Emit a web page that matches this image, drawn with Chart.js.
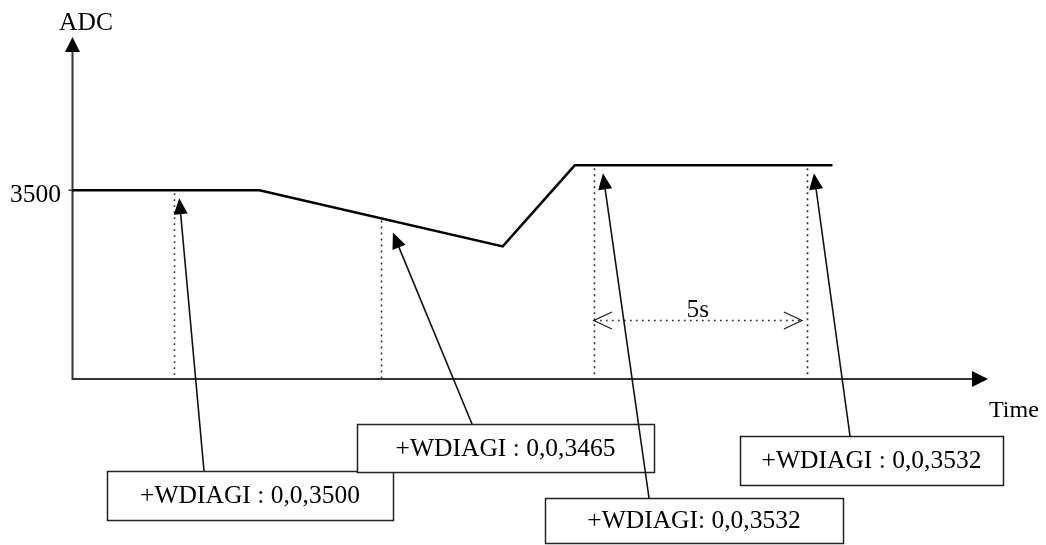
<!DOCTYPE html>
<html>
<head>
<meta charset="utf-8">
<script src="https://cdn.jsdelivr.net/npm/chart.js@4"></script>
<style>
html,body{margin:0;padding:0;background:#fff;}
canvas{display:block;}
</style>
</head>
<body>
<canvas id="c" width="1046" height="545"></canvas>
<script>
// ---- data ----
const timeS = [0, 4.40, 10.11, 11.80, 17.85];
const adcValues = [3500, 3500, 3428, 3532, 3532];
const sampleTimes = [2.4, 7.25, 12.25, 17.25];
const sampleValues = [3500, 3465, 3532, 3532];
const sampleLabels = ['+WDIAGI : 0,0,3500', '+WDIAGI : 0,0,3465', '+WDIAGI: 0,0,3532', '+WDIAGI : 0,0,3532'];
const yTickValues = [3500];
const yTickLabels = ['3500'];
const axisTitles = {x: 'Time', y: 'ADC'};
const spanLabel = '5s';

// ---- layout (pixels) ----
const FONT = '25.5px "Liberation Serif", "Times New Roman", serif';
const boxes = [
  {x: 107, y: 471, w: 286, h: 49, tailX: 204, tip: [5, 8]},
  {x: 357, y: 424, w: 297, h: 48, tailX: 472, tip: [12, 15]},
  {x: 545, y: 498, w: 298, h: 45, tailX: 649, tip: [9, 8]},
  {x: 740, y: 436, w: 263, h: 49, tailX: 850, tip: [7, 8]}
];

function arrowHead(ctx, x1, y1, x2, y2, len, half) {
  const a = Math.atan2(y2 - y1, x2 - x1);
  const bx = x2 - len * Math.cos(a), by = y2 - len * Math.sin(a);
  const nx = -Math.sin(a), ny = Math.cos(a);
  ctx.beginPath();
  ctx.moveTo(x2, y2);
  ctx.lineTo(bx + nx * half, by + ny * half);
  ctx.lineTo(bx - nx * half, by - ny * half);
  ctx.closePath();
  ctx.fill();
}

const diagram = {
  id: 'diagram',
  beforeDatasetsDraw(chart) {
    const {ctx, chartArea: ca, scales: {x, y}} = chart;
    ctx.save();
    // dotted verticals
    ctx.strokeStyle = '#333';
    ctx.lineWidth = 1.6;
    ctx.setLineDash([1.8, 4.2]);
    sampleTimes.forEach((t, i) => {
      const px = Math.round(x.getPixelForValue(t)) + 0.5;
      ctx.beginPath();
      ctx.moveTo(px, y.getPixelForValue(sampleValues[i]) + 3);
      ctx.lineTo(px, ca.bottom);
      ctx.stroke();
    });
    // span dotted line
    const sx1 = x.getPixelForValue(sampleTimes[2]);
    const sx2 = x.getPixelForValue(sampleTimes[3]) - 5;
    const sy = 320.5;
    ctx.beginPath();
    ctx.moveTo(sx1, sy); ctx.lineTo(sx2, sy); ctx.stroke();
    ctx.setLineDash([]);
    ctx.strokeStyle = '#222';
    ctx.lineWidth = 1.3;
    ctx.beginPath();
    ctx.moveTo(sx1 + 18, sy - 8.5); ctx.lineTo(sx1, sy); ctx.lineTo(sx1 + 18, sy + 8.5);
    ctx.moveTo(sx2 - 18, sy - 8.5); ctx.lineTo(sx2, sy); ctx.lineTo(sx2 - 18, sy + 8.5);
    ctx.stroke();
    ctx.fillStyle = '#111';
    ctx.font = FONT;
    ctx.textAlign = 'center';
    ctx.textBaseline = 'alphabetic';
    ctx.fillText(spanLabel, (sx1 + sx2) / 2, 317);

    // axes
    ctx.strokeStyle = '#333';
    ctx.fillStyle = '#000';
    ctx.lineWidth = 2;
    const ax = Math.round(ca.left) + 0.5, ay = Math.round(ca.bottom);
    ctx.beginPath();
    ctx.moveTo(ax, ay); ctx.lineTo(ax, ca.top + 12);
    ctx.moveTo(ax - 1, ay); ctx.lineTo(ca.right - 14, ay);
    ctx.stroke();
    arrowHead(ctx, ax, ay, ax, ca.top - 2, 15, 7.5);
    arrowHead(ctx, ax, ay, ca.right, ay, 16, 8);
    // y ticks
    ctx.lineWidth = 1.5;
    ctx.textAlign = 'right';
    ctx.textBaseline = 'middle';
    yTickValues.forEach((v, i) => {
      const py = y.getPixelForValue(v);
      ctx.beginPath(); ctx.moveTo(ax - 4, py); ctx.lineTo(ax, py); ctx.stroke();
      ctx.fillText(yTickLabels[i], 61, py + 5);
    });
    // axis titles
    ctx.textAlign = 'center';
    ctx.textBaseline = 'alphabetic';
    ctx.fillText(axisTitles.y, 86, 30);
    ctx.textAlign = 'left';
    ctx.font = '24px "Liberation Serif", "Times New Roman", serif';
    ctx.fillText(axisTitles.x, 989, 417);
    ctx.restore();
  },
  afterDatasetsDraw(chart) {
    const {ctx, scales: {x, y}} = chart;
    ctx.save();
    ctx.font = FONT;
    sampleTimes.forEach((t, i) => {
      const b = boxes[i];
      const tx = x.getPixelForValue(t) + b.tip[0];
      const ty = y.getPixelForValue(sampleValues[i]) + b.tip[1];
      // arrow
      ctx.strokeStyle = '#111';
      ctx.fillStyle = '#000';
      ctx.lineWidth = 1.6;
      const a = Math.atan2(ty - b.y, tx - b.tailX);
      ctx.beginPath();
      ctx.moveTo(b.tailX, b.y);
      ctx.lineTo(tx - 10 * Math.cos(a), ty - 10 * Math.sin(a));
      ctx.stroke();
      arrowHead(ctx, b.tailX, b.y, tx, ty, 16, 7);
      // box
      ctx.fillStyle = '#fff';
      ctx.fillRect(b.x, b.y, b.w, b.h);
      ctx.strokeStyle = '#222';
      ctx.lineWidth = 1.5;
      ctx.strokeRect(b.x + 0.5, b.y + 0.5, b.w, b.h);
      ctx.fillStyle = '#000';
      ctx.textAlign = 'center';
      ctx.textBaseline = 'middle';
      ctx.fillText(sampleLabels[i], b.x + b.w / 2, b.y + b.h / 2 + 1);
    });
    ctx.restore();
  }
};

new Chart(document.getElementById('c'), {
  type: 'line',
  data: {
    datasets: [{
      data: timeS.map((t, i) => ({x: t, y: adcValues[i]})),
      borderColor: '#000',
      borderWidth: 2.5,
      pointRadius: 0,
      tension: 0,
      fill: false
    }]
  },
  options: {
    responsive: false,
    animation: false,
    devicePixelRatio: 1,
    layout: {padding: {left: 72, right: 58, top: 39, bottom: 166}},
    plugins: {legend: {display: false}, tooltip: {enabled: false}},
    scales: {
      x: {type: 'linear', min: 0, max: 21.5, display: false},
      y: {type: 'linear', min: 3258, max: 3694, display: false}
    }
  },
  plugins: [diagram]
});
</script>
</body>
</html>
